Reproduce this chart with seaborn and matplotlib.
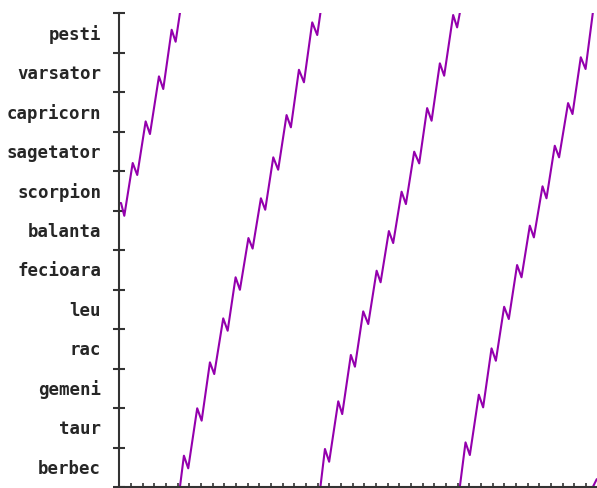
import numpy as np
import pandas as pd
import seaborn as sns
import matplotlib.pyplot as plt

sns.set_style("ticks")
plt.rcParams['font.family'] = ['DejaVu Sans Mono', 'DejaVu Sans']

# zodiac signs, 30 degrees each
signs = ["berbec", "taur", "gemeni", "rac", "leu", "fecioara",
         "balanta", "scorpion", "sagetator", "capricorn", "varsator", "pesti"]

# longitude (deg) vs time, one list per lap
day1 = [0.0, 0.15, 0.43, 1.15, 1.54, 2.26, 2.63, 3.40, 3.77, 4.49, 4.83, 5.20]
lon1 = [215.7, 215.7, 206.0, 246.1, 237.0, 277.7, 268.1, 311.9, 302.3, 347.3, 338.2, 360]

day2 = [5.20, 5.54, 5.91, 6.68, 7.06, 7.77, 8.14, 8.91, 9.29, 9.97, 10.34, 11.07,
        11.43, 12.14, 12.51, 13.20, 13.62, 14.34, 14.71, 15.40, 15.83, 16.54, 16.97, 17.24]
lon2 = [0, 23.8, 14.2, 59.8, 50.4, 94.7, 85.8, 128.1, 118.7, 159.3, 149.8, 189.1,
        181.1, 219.3, 210.6, 250.4, 241.0, 282.5, 273.2, 316.9, 307.4, 352.9, 343.3, 360]

day3 = [17.24, 17.63, 17.99, 18.77, 19.11, 19.85, 20.20, 20.91, 21.34, 22.06, 22.40, 23.11,
        23.48, 24.20, 24.57, 25.28, 25.71, 26.39, 26.77, 27.48, 27.85, 28.62, 28.96, 29.19]
lon3 = [0, 28.9, 19.2, 65.1, 55.4, 100.3, 91.4, 133.4, 123.8, 164.3, 155.5, 194.4,
        185.3, 224.3, 214.9, 254.7, 245.8, 287.8, 278.2, 321.8, 312.4, 358.5, 349.1, 360]

day4 = [29.19, 29.68, 30.05, 30.82, 31.19, 31.91, 32.28, 32.99, 33.39, 34.10, 34.48, 35.19,
        35.54, 36.28, 36.62, 37.33, 37.70, 38.47, 38.85, 39.56, 39.97, 40.59]
lon4 = [0, 33.9, 24.3, 70.1, 60.5, 105.3, 95.9, 136.9, 127.6, 168.6, 159.3, 198.5,
        189.6, 228.4, 219.3, 259.2, 250.4, 291.6, 283.3, 326.4, 317.5, 360]

day5 = [40.59, 40.93]
lon5 = [0, 6.0]

laps = [(day1, lon1), (day2, lon2), (day3, lon3), (day4, lon4), (day5, lon5)]
frames = []
for i, (d, l) in enumerate(laps):
    frames.append(pd.DataFrame({"day": d, "lon": l, "lap": i}))
df = pd.concat(frames, ignore_index=True)

fig = plt.figure(figsize=(5.97, 4.89), dpi=100)
ax = fig.add_axes([0.1998, 0.002, 0.8002, 0.9693])
sns.lineplot(data=df, x="day", y="lon", units="lap", estimator=None,
             color="#9400ad", lw=1.5, ax=ax)

ax.set_xlim(0, 40.95)
ax.set_ylim(0, 360)
ax.set_xlabel("")
ax.set_ylabel("")

# sign boundaries as ticks, names in between
ax.set_yticks(np.arange(0, 361, 30))
ax.set_yticklabels([])
ax.set_yticks(np.arange(16, 360, 30), minor=True)
ax.set_yticklabels(signs, minor=True, fontsize=12.5, fontweight="bold")
ax.tick_params(axis="y", which="minor", length=0, pad=13)
ax.tick_params(axis="y", which="major", direction="inout", length=8, width=1.5, color="#333333")

ax.set_xticks(np.arange(0, 41))
ax.set_xticklabels([])
ax.tick_params(axis="x", direction="inout", length=6, width=1.2, color="#333333")

for s in ["top", "right"]:
    ax.spines[s].set_visible(False)
for s in ["left", "bottom"]:
    ax.spines[s].set_color("#333333")
    ax.spines[s].set_linewidth(1.5)

fig.savefig("out.png", dpi=100)
